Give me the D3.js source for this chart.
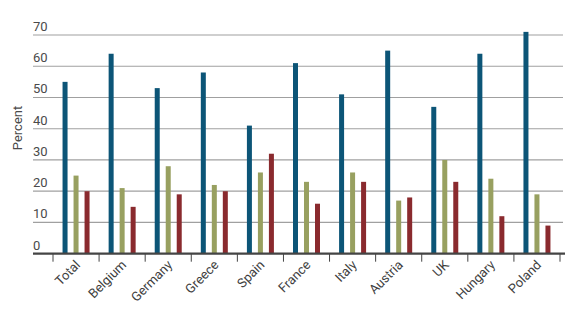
<!DOCTYPE html>
<html><head><meta charset="utf-8">
<script src="https://cdn.jsdelivr.net/npm/d3@7"></script>
<style>body{margin:0;background:#fff}svg{display:block}text{font-family:Roboto,"Open Sans",sans-serif}</style>
</head><body>
<svg id="c" width="588" height="320"></svg>
<script>
const categories = ["Total","Belgium","Germany","Greece","Spain","France","Italy","Austria","UK","Hungary","Poland"];
const seriesA = [55,64,53,58,41,61,51,65,47,64,71];
const seriesB = [25,21,28,22,26,23,26,17,30,24,19];
const seriesC = [20,15,19,20,32,16,23,18,23,12,9];
const yTicks = [0,10,20,30,40,50,60,70];
const colors = ["#0c5577","#98a060","#8a2a2e"];

const svg = d3.select("#c");
const x = d3.scaleBand().domain(categories).range([53,560]);
const y = d3.scaleLinear().domain([0,70]).range([253.7,35]);

// gridlines
svg.append("g").selectAll("line").data(yTicks.filter(d=>d>0)).join("line")
  .attr("x1",33).attr("x2",563).attr("y1",d=>y(d)).attr("y2",d=>y(d))
  .attr("stroke","#a0a0a0").attr("stroke-width",1.2);
// y labels
svg.append("g").selectAll("text").data(yTicks).join("text")
  .attr("x",33).attr("y",d=>y(d)-4).text(d=>d)
  .attr("font-size",13).attr("fill","#4a4a4a");
// y title
svg.append("text").attr("transform","translate(22,128) rotate(-90)")
  .attr("text-anchor","middle").attr("font-size",13).attr("fill","#4a4a4a").text("Percent");

const series = [seriesA,seriesB,seriesC];
const bw = 5, gap = 11;
series.forEach((s,i)=>{
  svg.append("g").selectAll("rect").data(s).join("rect")
    .attr("x",(d,j)=>x(categories[j])+x.bandwidth()/2+(i-1)*gap-bw/2)
    .attr("width",bw)
    .attr("y",d=>y(d)).attr("height",d=>y(0)-y(d))
    .attr("fill",colors[i]);
});

// x axis
const xa = svg.append("g").attr("transform",`translate(0,${y(0)})`);
xa.append("line").attr("x1",33).attr("x2",565).attr("y1",0).attr("y2",0)
  .attr("stroke","#444").attr("stroke-width",2.2);
const tickPos = categories.map(c=>x(c)).concat([x.range()[1]]);
xa.selectAll("line.t").data(tickPos).join("line").attr("class","t")
  .attr("x1",d=>d).attr("x2",d=>d).attr("y1",0).attr("y2",8)
  .attr("stroke","#444").attr("stroke-width",1);
xa.selectAll("text").data(categories).join("text")
  .attr("transform",d=>`translate(${x(d)+x.bandwidth()/2+5},${12}) rotate(-45)`)
  .attr("text-anchor","end").attr("font-size",13).attr("fill","#3f3f3f").text(d=>d);
</script>
</body></html>
